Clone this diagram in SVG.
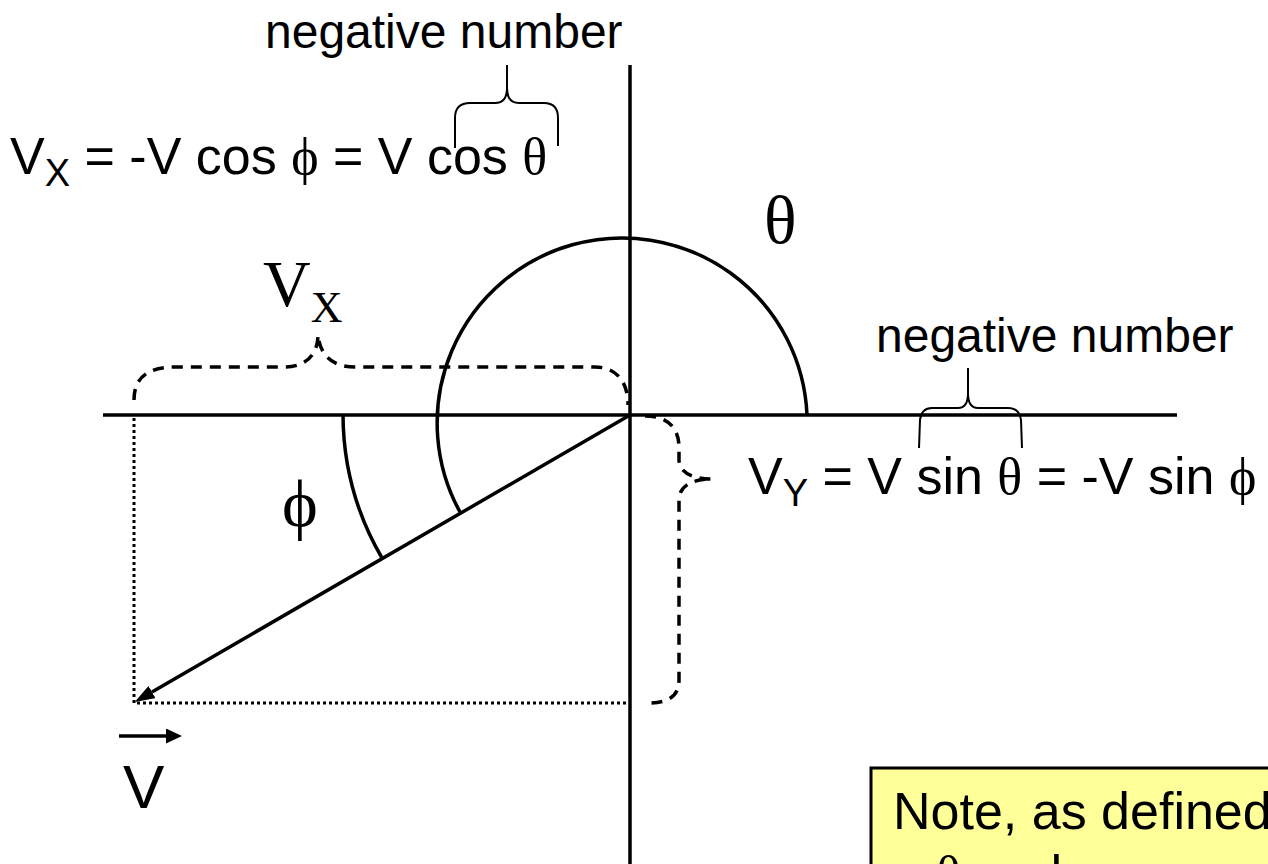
<svg xmlns="http://www.w3.org/2000/svg" width="1268" height="864" viewBox="0 0 1268 864">
<style>
.sans{font-family:"Liberation Sans",Arial,sans-serif;fill:#000}
.serif{font-family:"Liberation Serif","Times New Roman","DejaVu Serif",serif;fill:#000}
.ln{stroke:#000;stroke-width:3.5;fill:none}
.thin{stroke:#000;stroke-width:2;fill:none}
.dash{stroke:#000;stroke-width:3.5;fill:none;stroke-dasharray:11 8}
.dot{stroke:#000;stroke-width:3;fill:none;stroke-dasharray:3 3}
</style>
<defs>
<marker id="ah" viewBox="0 0 20 14" refX="0" refY="7" markerWidth="20" markerHeight="14" markerUnits="userSpaceOnUse" orient="auto"><path d="M0,0 L20,7 L0,14 z" fill="#000"/></marker>
<marker id="ah2" viewBox="0 0 16 15" refX="0" refY="7.5" markerWidth="16" markerHeight="15" markerUnits="userSpaceOnUse" orient="auto"><path d="M0,0 L16,7.5 L0,15 z" fill="#000"/></marker>
</defs>
<rect width="1268" height="864" fill="#fff"/>
<g id="axes">
<line class="ln" x1="103" y1="415" x2="1177" y2="415"/>
<line class="ln" x1="630" y1="65" x2="630" y2="864"/>
</g>
<g id="connectors">
<line class="ln" x1="630" y1="415" x2="152" y2="692" marker-end="url(#ah)"/>
<line class="dot" x1="134" y1="418" x2="134" y2="703"/>
<line class="dot" x1="137" y1="703" x2="628" y2="703"/>
<path class="ln" d="M 460,512 A 185 185 0 1 1 807,415"/>
<path class="ln" d="M 343,415 A 287 287 0 0 0 382,558"/>
<path class="dash" d="M 134,400 C 134,380 145,367 175,367 L 285,367 C 305,367 318,355 318,335 C 320,355 332,367 355,367 L 595,367 C 615,367 628,380 628,405"/>
<path class="dash" d="M 645,416 C 668,416 679,428 679,448 L 679,460 C 679,472 692,479 712,479 C 692,479 679,486 679,500 L 679,680 C 679,695 670,703 648,703"/>
<path class="thin" d="M 455,148 L 455,118 C 455,108 460,103 470,103 L 495,103 C 503,103 507,98 507,88 L 507,65 M 507,88 C 507,98 511,103 519,103 L 544,103 C 554,103 558,108 558,118 L 558,146"/>
<path class="thin" d="M 919,448 L 920,420 C 921,412 925,408 932,408 L 958,408 C 965,408 968,403 968,393 L 968,368 M 968,393 C 968,403 971,408 978,408 L 1008,408 C 1016,408 1020,412 1021,420 L 1022,448"/>
<line class="ln" x1="119" y1="736" x2="166" y2="736" marker-end="url(#ah2)"/>
</g>
<g id="label-neg-top"><text class="sans" x="265" y="48" font-size="48">negative number</text></g>
<g id="label-neg-right"><text class="sans" x="876" y="352" font-size="48">negative number</text></g>
<g id="formula-vx"><text class="sans" x="10" y="174" font-size="52">V<tspan font-size="38" dy="12">X</tspan><tspan dy="-12"> = -V cos </tspan><tspan class="serif">ϕ</tspan> = V cos <tspan class="serif">θ</tspan></text></g>
<g id="formula-vy"><text class="sans" x="748" y="494" font-size="52">V<tspan font-size="38" dy="12">Y</tspan><tspan dy="-12"> = V sin </tspan><tspan class="serif">θ</tspan> = -V sin <tspan class="serif">ϕ</tspan></text></g>
<g id="label-theta"><text class="serif" x="764" y="243" font-size="68">θ</text></g>
<g id="label-vx"><text class="serif" x="263" y="306" font-size="66">V<tspan font-size="44" dy="16">X</tspan></text></g>
<g id="label-phi"><text class="serif" x="282" y="527" font-size="68">ϕ</text></g>
<g id="label-v"><text class="sans" x="123" y="808" font-size="62">V</text></g>
<g id="note">
<rect x="871" y="768" width="420" height="130" fill="#FFFF99" stroke="#000" stroke-width="3"/>
<text class="sans" x="893" y="829" font-size="52">Note, as defined</text>
<text class="sans" x="936" y="892" font-size="52"><tspan class="serif">θ</tspan> and</text>
</g>
</svg>
